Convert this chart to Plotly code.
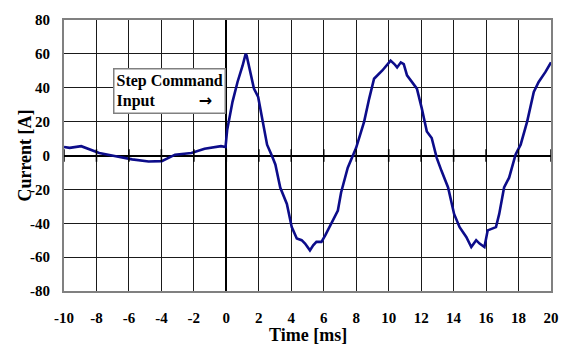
import plotly.graph_objects as go

# Data
time_ms = [-10, -9.65, -8.94, -8.44, -7.83, -6.81, -5.8, -4.79, -3.98, -3.16,
           -2.15, -1.34, -0.33, -0.05, 0.05, 0.38, 0.69, 1.0, 1.19, 1.25,
           1.4, 1.7, 1.96, 2.21, 2.51, 2.82, 3.02, 3.32, 3.73, 4.03,
           4.34, 4.64, 4.85, 5.15, 5.35, 5.55, 5.86, 6.1, 6.47, 6.87,
           7.07, 7.48, 7.99, 8.49, 8.8, 9.1, 9.61, 10.12, 10.35, 10.52,
           10.75, 10.93, 11.13, 11.74, 12.04, 12.35, 12.65, 12.96, 13.26, 13.66,
           14.03, 14.37, 14.78, 15.09, 15.39, 15.6, 15.9, 16.1, 16.61, 16.81,
           17.11, 17.42, 17.82, 18.13, 18.53, 18.94, 19.24, 19.65, 20]
current_a = [5, 4.5, 5.5, 3.5, 1.5, -0.5, -2.3, -3.5, -3.3, 0.5,
             1.5, 4, 5.5, 5, 15, 31.7, 43.4, 53, 60, 59,
             53, 39.5, 34.6, 22, 6.4, -0.4, -5.3, -18.9, -28.6, -42.3,
             -49, -50, -52, -56, -53, -51, -51, -47, -40.3, -32.5,
             -21.8, -7.2, 4.4, 20, 33.6, 45.3, 50.2, 56, 54, 52,
             55, 54, 47.3, 39.5, 27.8, 14.2, 10.3, -1.4, -9.2, -18.9,
             -34.5, -42.3, -48.1, -54, -50, -52, -54, -44.2, -42.3, -34.5,
             -18.9, -13.1, 0.6, 6.4, 20, 37.5, 43.4, 49.2, 55]

x_ticks = list(range(-10, 21, 2))
y_ticks = list(range(-80, 81, 20))
x_labels = [str(v) for v in x_ticks]
y_labels = [str(v) for v in y_ticks]

FONT = "Liberation Serif, Times New Roman, serif"

fig = go.Figure()
fig.add_trace(go.Scatter(
    x=time_ms, y=current_a, mode="lines",
    line=dict(color="#0c0c8a", width=2.6),
    hoverinfo="skip", showlegend=False,
))
# small tick marks on the zero axis line
fig.add_trace(go.Scatter(
    x=x_ticks, y=[0] * len(x_ticks), mode="markers",
    marker=dict(symbol="line-ns", size=9, line=dict(color="black", width=1.5)),
    hoverinfo="skip", showlegend=False, cliponaxis=False,
))

axis_common = dict(
    showgrid=True, gridcolor="#1a1a1a", gridwidth=1,
    showline=True, linecolor="#808080", linewidth=2, mirror=True,
    ticks="outside", tickcolor="rgba(0,0,0,0)",
    tickfont=dict(family=FONT, size=15, color="black", weight="bold"),
    zeroline=True, zerolinecolor="black", zerolinewidth=2,
)

fig.update_layout(
    width=571, height=346,
    margin=dict(l=64, r=14, t=17, b=55),
    paper_bgcolor="white", plot_bgcolor="white",
    xaxis=dict(range=[-10, 20], tickvals=x_ticks, ticktext=x_labels, ticklen=12, **axis_common),
    yaxis=dict(range=[-80, 80], tickvals=y_ticks, ticktext=y_labels, ticklen=9, **axis_common),
    annotations=[
        dict(text="Time [ms]", xref="paper", yref="paper", x=0.5, y=-0.161,
             xanchor="center", yanchor="middle", showarrow=False,
             font=dict(family=FONT, size=18, color="black", weight="bold")),
        dict(text="Current [A]", xref="paper", yref="paper", x=-0.082, y=0.5,
             xanchor="center", yanchor="middle", showarrow=False, textangle=-90,
             font=dict(family=FONT, size=18, color="black", weight="bold")),
        dict(text="Step Command<br>Input" + "\u00a0" * 11
                  + "<span style=\"font-family:DejaVu Sans\">\u2192</span>",
             xref="x", yref="y", x=-6.98, y=51.5,
             xanchor="left", yanchor="top", align="left", showarrow=False,
             bgcolor="white", bordercolor="#808080", borderwidth=1.5, borderpad=2,
             font=dict(family=FONT, size=16, color="black", weight="bold")),
    ],
)

fig.write_html("out.html")
